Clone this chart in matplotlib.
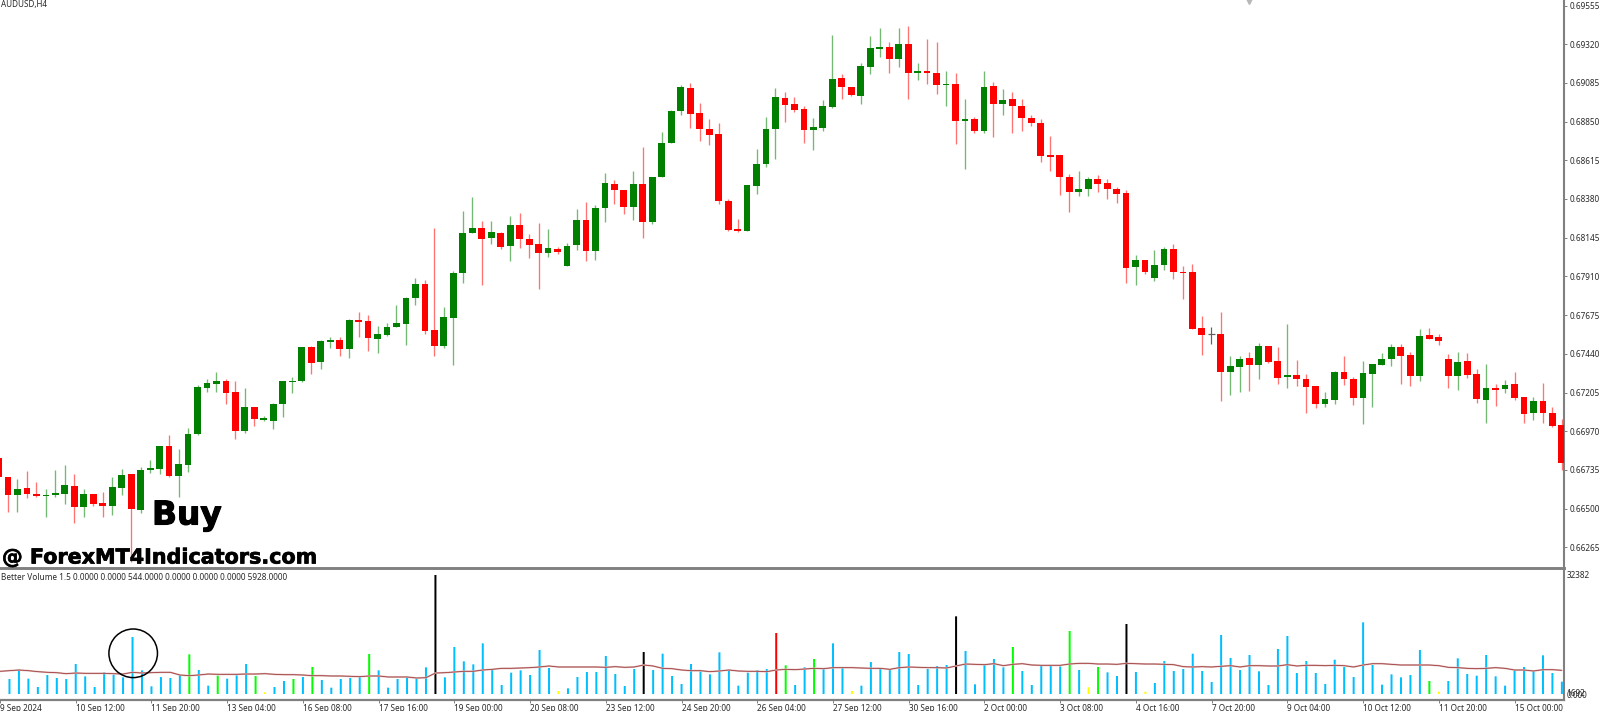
import numpy as np
import matplotlib
matplotlib.use("Agg")
import matplotlib.pyplot as plt
import matplotlib.patheffects as pe
from matplotlib.patches import Ellipse

# Prices in points (1 point = 0.00001)
opens = [66809,66694,66585,66623,66589,66579,66583,66591,66637,66512,66587,66532,66516,66623,66710,66491,66736,66742,66878,66698,
66767,66951,67230,67257,67277,67206,66971,67119,67038,67034,67137,67267,67275,67479,67390,67514,67522,67469,67647,67637,
67532,67554,67605,67623,67777,67864,67583,67487,67659,67933,68174,68204,68141,68176,68095,68220,68137,68105,68054,68078,
67975,68099,68255,68064,68325,68471,68435,68331,68471,68240,68512,68720,68914,69056,68902,68805,68777,68370,68198,68186,
68459,68590,68803,68995,68957,68926,68797,68813,68939,69113,69060,69007,69183,69293,69303,69230,69321,69145,69155,69147,
69072,69078,68856,68866,68795,69064,68957,68985,68945,68874,68841,68647,68645,68513,68422,68439,68503,68475,68443,68414,
67965,68007,67900,67979,68076,67939,67937,67597,67558,67558,67327,67362,67412,67372,67489,67396,67299,67313,67287,67244,
67137,67159,67327,67287,67170,67319,67374,67410,67481,67433,67303,67552,67540,67408,67303,67394,67315,67161,67232,67226,
67255,67176,67081,67153,67083,67008]
closes = [66694,66581,66617,66589,66576,66585,66593,66641,66512,66587,66530,66516,66631,66704,66498,66732,66746,66880,66698,66769,
66953,67238,67263,67277,67202,66971,67119,67042,67048,67137,67273,67277,67479,67386,67518,67522,67469,67647,67635,67536,
67558,67603,67625,67781,67864,67578,67487,67661,67931,68176,68202,68137,68180,68091,68220,68137,68099,68054,68080,68058,
68097,68255,68064,68327,68475,68433,68331,68471,68240,68514,68722,68916,69060,68896,68805,68771,68368,68192,68186,68463,
68593,68805,68999,68951,68920,68799,68815,68945,69111,69058,69011,69187,69295,69303,69230,69321,69145,69155,69145,69072,
69078,68853,68866,68791,69060,68957,68981,68943,68872,68841,68643,68637,68513,68420,68443,68503,68471,68439,68410,67961,
68007,67939,67981,68076,67937,67931,67593,67554,67558,67327,67364,67408,67372,67489,67392,67295,67313,67285,67240,67137,
67165,67327,67285,67170,67323,67378,67410,67481,67429,67303,67550,67532,67516,67303,67392,67313,67165,67232,67220,67251,
67172,67074,67151,67079,67004,66779]
highs = [66809,66694,66678,66730,66662,66617,66734,66765,66710,66617,66587,66601,66690,66740,66710,66751,66793,66880,66949,66862,
66989,67248,67285,67329,67285,67277,67232,67119,67062,67139,67275,67299,67481,67487,67522,67542,67542,67651,67692,67676,
67611,67629,67736,67783,67900,67886,68206,67724,67943,68307,68392,68244,68246,68180,68277,68293,68167,68234,68198,68091,
68113,68317,68364,68346,68540,68495,68435,68550,68694,68516,68785,68918,69072,69084,68963,68864,68839,68378,68259,68467,
68682,68878,69052,69030,68999,68945,68874,68979,69376,69139,69060,69204,69370,69418,69333,69418,69430,69206,69349,69333,
69155,69145,68989,68880,69157,69090,69048,69030,68985,68890,68864,68762,68645,68532,68550,68511,68526,68503,68451,68433,
68040,68007,68070,68086,68105,67971,67985,67672,67603,67694,67425,67425,67451,67504,67489,67481,67621,67400,67315,67244,
67206,67338,67425,67297,67398,67378,67443,67498,67498,67449,67591,67595,67560,67437,67451,67443,67348,67378,67257,67279,
67327,67176,67180,67263,67119,67042]
lows = [66694,66479,66481,66566,66568,66447,66572,66530,66411,66451,66518,66447,66463,66581,66176,66471,66718,66710,66694,66570,
66720,66947,67206,67206,67137,66925,66961,67002,67030,66985,67058,67204,67267,67317,67348,67475,67425,67416,67540,67459,
67443,67546,67605,67493,67736,67562,67427,67473,67374,67868,68174,67860,68105,68078,68004,68082,68022,67831,68030,68048,
67975,68072,68004,68010,68240,68350,68291,68255,68145,68230,68512,68720,68890,68809,68730,68708,68352,68184,68182,68186,
68410,68572,68625,68846,68910,68720,68679,68795,68930,68989,69003,68957,69137,69244,69147,69183,68989,69100,69076,69017,
68945,68712,68564,68781,68783,68754,68890,68781,68791,68823,68605,68550,68406,68299,68400,68396,68420,68378,68356,67870,
67856,67925,67882,67947,67892,67773,67589,67433,67502,67151,67188,67208,67214,67285,67384,67259,67230,67244,67081,67111,
67115,67133,67253,67129,67012,67115,67374,67364,67259,67244,67273,67530,67493,67230,67222,67295,67141,67022,67123,67204,
67159,67022,67038,67022,66994,66734]

volumes = [4082,6712,4172,1905,5170,4354,4082,8163,4807,1905,5896,5261,4535,15510,6440,2086,4626,4354,5261,10793,
6530,2268,4989,4172,5079,8163,4898,454,1905,3537,4082,4626,7347,3809,1723,4082,4354,4626,10884,6440,
1723,4082,4535,4172,7256,32382,4535,12789,8889,8072,13786,6712,2449,5805,6440,5170,11972,7075,816,1542,
4626,5986,5986,10340,5442,2177,6803,11428,6530,10975,4898,2721,8163,6168,5351,11338,6530,2268,5805,6530,
6803,16598,7800,2449,7256,9524,7075,13786,7075,816,2268,8707,7075,6712,11428,10884,2449,6803,7619,7891,
21133,11700,2630,7982,9524,7256,12789,6258,2449,7800,7800,7528,17142,6530,1814,7347,5896,4898,19047,5986,
635,2993,8979,6258,6803,10975,6258,3265,16054,9796,6530,10612,6168,2449,12245,15782,5714,8979,5714,2721,
9342,7347,4626,19501,7891,2540,5351,4535,5170,11972,3537,635,3537,9705,5442,4989,10612,4807,2268,6712,
7347,6349,10521,5714,3356]
volume_ma = [6170,6350,6530,6350,6080,5900,5800,5530,5710,5620,5620,5620,5530,5440,5900,5710,5800,5900,5900,5170,
4990,5170,5440,5350,5350,5350,5440,5440,5530,5350,5260,5260,5170,4990,4990,4900,4900,4810,4720,4900,
4900,4630,4630,4630,4350,4440,5710,5800,5990,6170,6170,6530,6710,6980,6980,7080,7170,7350,7620,7350,
7350,7350,7350,7350,7260,7440,7260,7350,7890,7620,6980,6890,6530,6350,6350,6080,6260,6530,6260,6170,
6170,6080,6530,6710,6620,6800,6980,6890,7170,7170,7170,7080,6980,6980,6710,7170,7350,7260,7170,7170,
7080,7620,8160,8070,7980,8250,7710,8070,8250,7890,7800,7800,7800,8160,8340,8340,8160,8160,8070,8340,
8250,8160,8160,8070,7980,7440,7350,7440,7350,7530,7710,7350,7710,7710,7620,7620,7980,7620,7800,7800,
7710,7800,7710,7350,7890,8250,8250,8070,7890,7890,7890,7890,7710,7260,7170,6980,6890,6980,7170,6980,
6530,6530,6260,6620,6620,6440]

green_bars = [19,22,26,30,32,38,82,85,106,112,115,150]
yellow_bars = [27,58,89,114,120,151]
black_bars = [45,67,100,118]
red_bars = [81]

time_labels = ["9 Sep 2024","10 Sep 12:00","11 Sep 20:00","13 Sep 04:00","16 Sep 08:00","17 Sep 16:00","19 Sep 00:00",
"20 Sep 08:00","23 Sep 12:00","24 Sep 20:00","26 Sep 04:00","27 Sep 12:00","30 Sep 16:00","2 Oct 00:00","3 Oct 08:00",
"4 Oct 16:00","7 Oct 20:00","9 Oct 04:00","10 Oct 12:00","11 Oct 20:00","15 Oct 00:00"]
price_ticks = [0.66265,0.66500,0.66735,0.66970,0.67205,0.67440,0.67675,0.67910,0.68145,0.68380,0.68615,0.68850,0.69085,0.69320,0.69555]

assert len(opens)==len(closes)==len(highs)==len(lows)==166, (len(opens),len(closes),len(highs),len(lows))
assert len(volumes)==165, len(volumes)
assert len(volume_ma)==166, len(volume_ma)

bars = np.arange(-1,165)
o = np.array(opens)/1e5; c = np.array(closes)/1e5; h = np.array(highs)/1e5; l = np.array(lows)/1e5

FONT = "Noto Sans"
TXT = "#2a2a2a"
AXC = "#808080"
W, H = 1600, 711
plt.rcParams['font.family'] = [FONT, 'DejaVu Sans']
fig = plt.figure(figsize=(W/100, H/100), dpi=100, facecolor='white')
ax1 = fig.add_axes([0, (H-568)/H, 1564/W, 568/H])
ax2 = fig.add_axes([0, (H-700)/H, 1564/W, 130/H])

px = 9.475
xlim = ((0-8)/px, (1564-8)/px)
for ax in (ax1, ax2):
    ax.set_xlim(*xlim)
    ax.set_facecolor('white')
    for s in ('top','left'):
        ax.spines[s].set_visible(False)
    ax.spines['right'].set_color(AXC); ax.spines['right'].set_linewidth(1.5)
    ax.spines['bottom'].set_color(AXC); ax.spines['bottom'].set_linewidth(1.6)
ax1.spines['bottom'].set_linewidth(2.1)

ppp = 0.00235/38.7
ax1.set_ylim(0.66265-(568-547.3)*ppp, 0.66265+547.3*ppp)
vpp = 32382/119
ax2.set_ylim(-(700-694)*vpp, (694-570)*vpp)

# candles
up = c > o; dn = c < o; eq = c == o
for mask, col in ((up,'#007f00'),(dn,'#ff0000')):
    ax1.vlines(bars[mask], l[mask], h[mask], color=col, alpha=0.55, lw=0.95, zorder=2)
    ax1.bar(bars[mask], (c-o)[mask], bottom=o[mask], width=6.8/px, color=col, zorder=3, linewidth=0)
ax1.vlines(bars[eq], l[eq], h[eq], color='#606060', lw=0.85, zorder=2)
ax1.hlines(c[eq], bars[eq]-0.34, bars[eq]+0.34, color='#606060', lw=0.85, zorder=3)

ax1.yaxis.tick_right()
ax1.set_yticks(price_ticks)
ax1.set_yticklabels(["%.5f" % p for p in price_ticks], fontsize=5.9, color=TXT)
ax1.tick_params(axis='y', length=2.2, width=0.7, color=AXC, pad=1.5)
ax1.set_xticks([])
ax1.plot([131], [0.66265+547.3*ppp], marker='v', ms=5.5, color='#b8b8b8', clip_on=True, zorder=4, lw=0)

ax1.text(1/1564, 1-4.5/568, "AUDUSD,H4", transform=ax1.transAxes, fontsize=5.8, color=TXT, va='center', ha='left')
ax1.text(152/1564, 1-515/568, "Buy", transform=ax1.transAxes, fontsize=23.6, fontweight='bold', family='DejaVu Sans', color='black', va='center', ha='left', zorder=6,
         path_effects=[pe.withStroke(linewidth=0.8, foreground='black')])
ax1.text(2/1564, 1-557.5/568, "@ ForexMT4Indicators.com", transform=ax1.transAxes, fontsize=14.9, fontweight='bold', family='DejaVu Sans', color='black', va='center', ha='left', zorder=6,
         path_effects=[pe.withStroke(linewidth=0.5, foreground='black')])

# volumes
vb = np.arange(0,165)
vcols = ['#00bfff']*165
for idx, col in ((green_bars,'#00ff00'),(yellow_bars,'#ffff00'),(black_bars,'#000000'),(red_bars,'#ff0000')):
    for i in idx:
        vcols[i] = col
vol_container = ax2.bar(vb, volumes, width=2.0/px, color=vcols, linewidth=0, zorder=2)
for patch in vol_container:
    patch.set_snap(False)
ax2.plot(bars, volume_ma, color='#e2bcbc', lw=1.3, zorder=3, solid_capstyle='butt')
ax2.plot(bars, volume_ma, color='#a04040', lw=0.6, zorder=4)

ax2.add_patch(Ellipse((13.07, 11075), 48.6/px, 48.6*vpp, fill=False, edgecolor='black', lw=1.1, zorder=5, clip_on=False))

ax2.text(1/1564, 1-7/130, "Better Volume 1.5 0.0000 0.0000 544.0000 0.0000 0.0000 0.0000 5928.0000",
         transform=ax2.transAxes, fontsize=5.95, color=TXT, va='center', ha='left')

ax2.yaxis.tick_right()
ax2.set_yticks([32382, 0])
ax2.set_yticklabels(["32382", "0.000"], fontsize=5.9, color=TXT)
ax2.tick_params(axis='y', length=0, pad=2.0)
ax2.text(1566.5/1564, 0, "1692", transform=ax2.get_yaxis_transform(), fontsize=5.9, color=TXT, va='center', ha='left', clip_on=False)

tick_bars = np.arange(-1, 165, 8)
ax2.set_xticks(tick_bars)
ax2.set_xticklabels(time_labels, fontsize=5.9, color=TXT, ha='left')
ax2.tick_params(axis='x', length=2.2, width=0.7, color=AXC, pad=1.0)

fig.savefig("out.png", dpi=100, facecolor='white')
